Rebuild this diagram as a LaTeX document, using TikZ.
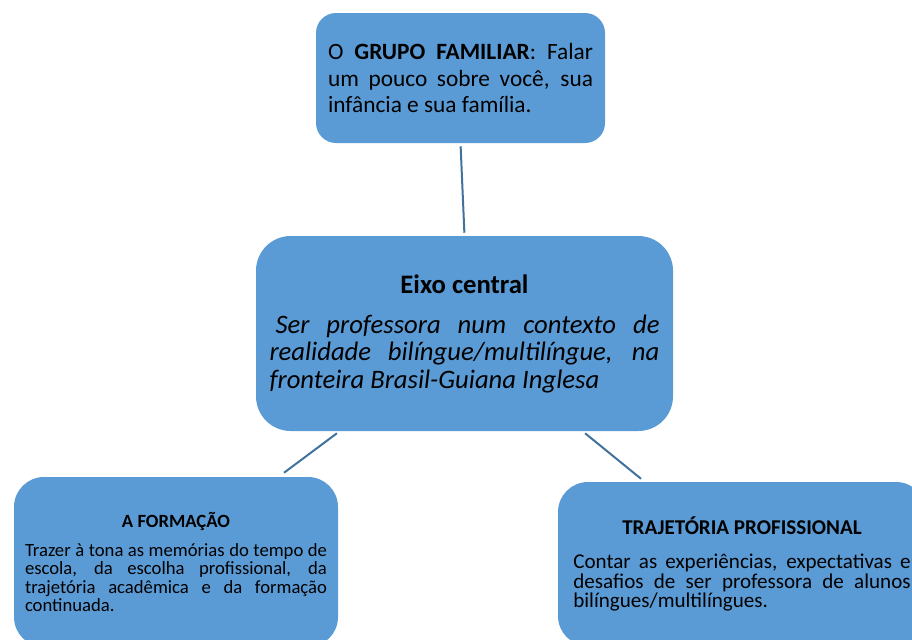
\documentclass[tikz,border=0pt]{standalone}
\usepackage{fontspec}
\setmainfont{Carlito}
\usetikzlibrary{positioning}
\definecolor{boxblue}{RGB}{91,155,213}
\definecolor{linkblue}{RGB}{65,113,156}
\setlength{\parindent}{0pt}
\setlength{\lineskiplimit}{-10pt}
\tikzset{
    topic/.style={
        rectangle,
        fill=boxblue,
        inner sep=0pt,
        align=justify,
        text=black
    },
    link/.style={
        draw=linkblue,
        line width=1.5pt
    }
}

\begin{document}
\begin{tikzpicture}[x=0.75pt, y=-0.75pt]
\useasboundingbox (0,0) rectangle (912,639);
\clip (0,0) rectangle (912,639);

% Top: family group
\node[topic, rounded corners=15pt, minimum width=216.75pt, minimum height=97.5pt, text width=198.75pt, font=\fontsize{17.5pt}{19.9pt}\selectfont] (grupo) at (460.5,78) {O \textbf{GRUPO FAMILIAR}: Falar\linebreak um pouco sobre você, sua\linebreak infância e sua família.};

% Middle: central axis
\node[topic, rounded corners=26pt, minimum width=312.75pt, minimum height=146.25pt, text width=292.5pt, font=\fontsize{20pt}{20.6pt}\selectfont] (eixo) at (464.5,333.5) {{\centering\bfseries Eixo central\par}\vspace{9.4pt}\itshape\hspace*{4.5pt}Ser professora num contexto de\linebreak realidade bilíngue/multilíngue, na\linebreak fronteira Brasil-Guiana Inglesa};

% Bottom left: education
\node[topic, rounded corners=22.5pt, minimum width=243pt, minimum height=127.5pt, text width=226.5pt, font=\fontsize{14pt}{13.7pt}\selectfont] (formacao) at (176,562) {{\centering\bfseries A FORMAÇÃO\par}\vspace{8pt}Trazer à tona as memórias do tempo de\linebreak escola, da escolha profissional, da\linebreak trajetória acadêmica e da formação\linebreak continuada.};

% Bottom right: career
\node[topic, rounded corners=22.5pt, minimum width=276pt, minimum height=123pt, text width=253pt, font=\fontsize{15.8pt}{14.6pt}\selectfont] (trajetoria) at (742,564) {{\centering\bfseries TRAJETÓRIA PROFISSIONAL\par}\vspace{10.9pt}Contar as experiências, expectativas e\linebreak desafios de ser professora de alunos\linebreak bilíngues/multilíngues.};

\draw[link, shorten <=2.25pt, shorten >=2.25pt] (grupo.south) -- (eixo.north);
\draw[link, shorten <=2.5pt, shorten >=5pt] ([xshift=-93.7pt]eixo.south) -- ([xshift=77pt]formacao.north);
\draw[link, shorten <=2.4pt, shorten >=3.5pt] ([xshift=88.6pt]eixo.south) -- ([xshift=-73pt]trajetoria.north);

\end{tikzpicture}
\end{document}
